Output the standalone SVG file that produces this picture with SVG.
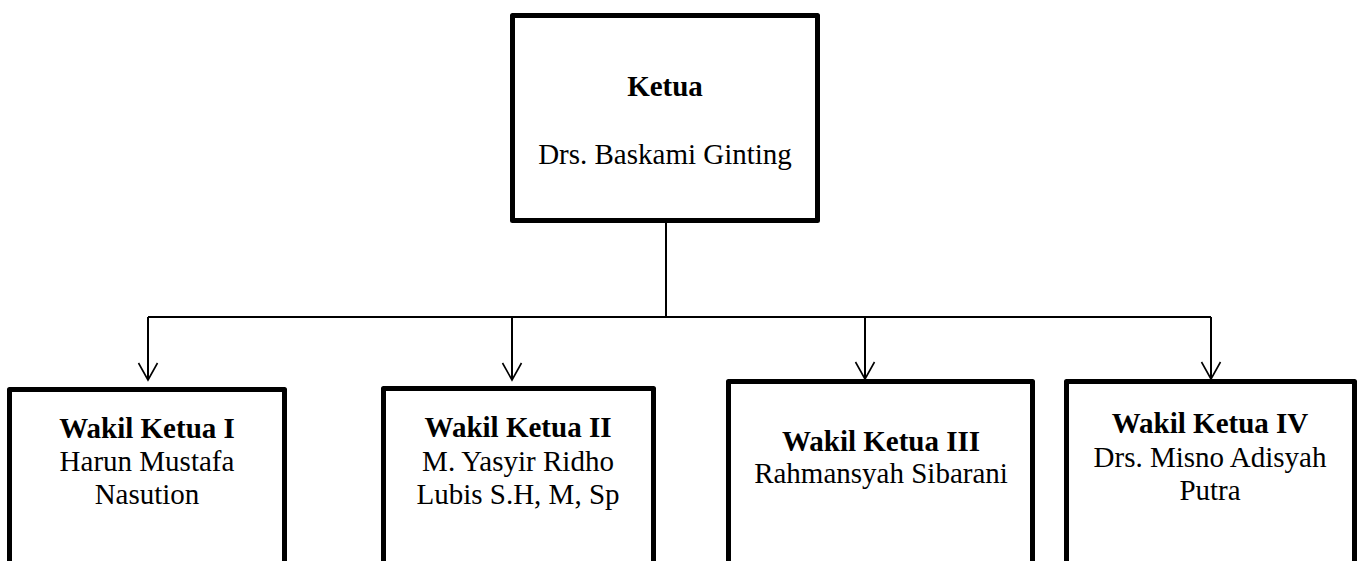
<svg xmlns="http://www.w3.org/2000/svg" width="1361" height="561" viewBox="0 0 1361 561">
<style>
.box{fill:#fff;stroke:#000;stroke-width:5;stroke-linejoin:round}
.t{font-family:"Liberation Serif","Times New Roman",serif;font-size:29px;fill:#000;text-anchor:middle}
.b{font-weight:bold}
.ln{fill:none;stroke:#000;stroke-width:2}
.ah{fill:none;stroke:#000;stroke-width:1.6}
</style>
<rect width="1361" height="561" fill="#fff"/>
<g id="connectors">
<path class="ln" d="M666,223 V317"/>
<path class="ln" d="M148,317 H1211"/>
<path class="ln" d="M148,317 V380"/>
<path class="ln" d="M512,317 V380"/>
<path class="ln" d="M865,317 V379"/>
<path class="ln" d="M1211,317 V379"/>
<path class="ah" d="M138.5,363 L148,380 L157.5,363"/>
<path class="ah" d="M502.5,363 L512,380 L521.5,363"/>
<path class="ah" d="M855.5,362 L865,379 L874.5,362"/>
<path class="ah" d="M1201.5,362 L1211,379 L1220.5,362"/>
</g>
<g id="node-ketua">
<rect class="box" x="512.5" y="15.5" width="305" height="205"/>
<text class="t b" x="665" y="96">Ketua</text>
<text class="t" x="665" y="164">Drs. Baskami Ginting</text>
</g>
<g id="node-wakil1">
<rect class="box" x="9.5" y="389.5" width="275" height="200"/>
<text class="t b" x="147" y="438">Wakil Ketua I</text>
<text class="t" x="147" y="471">Harun Mustafa</text>
<text class="t" x="147" y="504">Nasution</text>
</g>
<g id="node-wakil2">
<rect class="box" x="383.5" y="388.5" width="270" height="200"/>
<text class="t b" x="518" y="437">Wakil Ketua II</text>
<text class="t" x="518" y="471">M. Yasyir Ridho</text>
<text class="t" x="518" y="504">Lubis S.H, M, Sp</text>
</g>
<g id="node-wakil3">
<rect class="box" x="728.5" y="381.5" width="304" height="200"/>
<text class="t b" x="881" y="451">Wakil Ketua III</text>
<text class="t" x="881" y="483">Rahmansyah Sibarani</text>
</g>
<g id="node-wakil4">
<rect class="box" x="1066.5" y="381.5" width="288" height="200"/>
<text class="t b" x="1210" y="433">Wakil Ketua IV</text>
<text class="t" x="1210" y="467">Drs. Misno Adisyah</text>
<text class="t" x="1210" y="500">Putra</text>
</g>
</svg>
